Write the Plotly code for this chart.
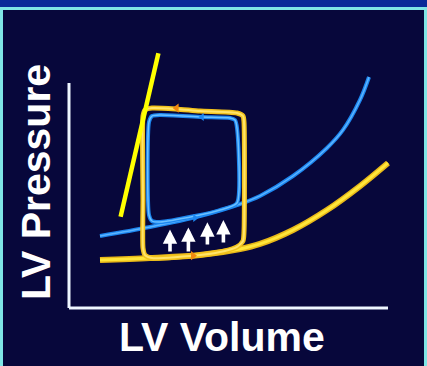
import plotly.graph_objects as go

# ---- data (LV volume, LV pressure) ----
edpvr_vol = [15.5, 40.5, 65.5, 85.5, 95.5, 112, 129, 145.5, 159.5]
edpvr_pres = [32, 33.3, 35.3, 39.3, 42.7, 52, 65.3, 81.3, 96.7]

shift_vol = [15.5, 40.5, 65.5, 85.5, 95.5, 112, 129, 137, 145.5, 150]
shift_pres = [48, 54, 61.3, 69.3, 74.7, 88, 106.7, 118.7, 138.7, 154]

espvr_vol = [25.8, 44.7]
espvr_pres = [60.9, 169.8]

loop1_vol = [87.5, 87, 84, 65.5, 53.5, 41.5, 38, 37, 37, 37, 38, 41.5, 65.5, 78, 84, 87, 87.5, 87.5]
loop1_pres = [124, 128, 130, 131.3, 132.7, 133.3, 132, 128, 72, 40, 35.3, 33.3, 35.3, 38, 40.7, 44.7, 50.7, 124]

loop2_vol = [84, 83, 80.5, 66.5, 45.5, 41.5, 40, 40, 41.5, 45.5, 63, 75.5, 84, 84]
loop2_pres = [120, 125.3, 126.7, 127.3, 128.7, 128, 124, 62, 58, 57.3, 61.3, 65.3, 70, 120]

dir1_vol = [53.8, 62]
dir1_pres = [133.3, 34.9]
dir1_sym = ["triangle-left", "triangle-right"]
dir2_vol = [66.5, 63]
dir2_pres = [127.3, 60]
dir2_sym = ["triangle-left", "triangle-right"]

arrow_vol = [50.5, 59.7, 69.2, 77.2]
arrow_base = [36.7, 36.7, 41.3, 42.7]
arrow_tip = [52.4, 53.7, 57.1, 58.6]

x_label = "LV Volume"
y_label = "LV Pressure"

NAVY = "#07073b"
CYAN = "#7fe6e6"
STRIP = "#0a2a98"
BLUE = "#1c86f0"

fig = go.Figure()

# EDPVR (yellow curve)
fig.add_trace(go.Scatter(x=edpvr_vol, y=edpvr_pres, mode="lines",
                         line=dict(color="#e8b818", width=6, shape="spline", smoothing=1)))
fig.add_trace(go.Scatter(x=edpvr_vol, y=edpvr_pres, mode="lines",
                         line=dict(color="#ffe63a", width=3, shape="spline", smoothing=1)))
# shifted curve (blue)
fig.add_trace(go.Scatter(x=shift_vol, y=shift_pres, mode="lines",
                         line=dict(color=BLUE, width=4, shape="spline", smoothing=1)))
fig.add_trace(go.Scatter(x=shift_vol, y=shift_pres, mode="lines",
                         line=dict(color="#5cb4ff", width=1.5, shape="spline", smoothing=1)))
# yellow loop
fig.add_trace(go.Scatter(x=loop1_vol, y=loop1_pres, mode="lines",
                         line=dict(color="#f2c21c", width=5, shape="spline", smoothing=0.6)))
fig.add_trace(go.Scatter(x=loop1_vol, y=loop1_pres, mode="lines",
                         line=dict(color="#ffe46a", width=2, shape="spline", smoothing=0.6)))
fig.add_trace(go.Scatter(x=dir1_vol, y=dir1_pres, mode="markers",
                         marker=dict(symbol=dir1_sym, size=8, color="#f08a10")))
# blue loop
fig.add_trace(go.Scatter(x=loop2_vol, y=loop2_pres, mode="lines",
                         line=dict(color=BLUE, width=4, shape="spline", smoothing=0.6)))
fig.add_trace(go.Scatter(x=loop2_vol, y=loop2_pres, mode="lines",
                         line=dict(color="#6cc0ff", width=1.5, shape="spline", smoothing=0.6)))
fig.add_trace(go.Scatter(x=dir2_vol, y=dir2_pres, mode="markers",
                         marker=dict(symbol=dir2_sym, size=7, color=BLUE)))
# ESPVR straight line
fig.add_trace(go.Scatter(x=espvr_vol, y=espvr_pres, mode="lines",
                         line=dict(color="#ffff00", width=4.5)))

annotations = []
for v, b, t in zip(arrow_vol, arrow_base, arrow_tip):
    annotations.append(dict(x=v, y=t, ax=v, ay=b, xref="x", yref="y", axref="x", ayref="y",
                            text="", showarrow=True, arrowhead=2, arrowsize=0.8,
                            arrowwidth=3.6, arrowcolor="white", standoff=0, startstandoff=0))

annotations.append(dict(text=x_label, x=221.7 / 427, y=1 - 336.7 / 366, xref="paper", yref="paper",
                        showarrow=False, xanchor="center", yanchor="middle",
                        font=dict(family="Liberation Sans, Arial, sans-serif", size=41, color="white",
                                  weight="bold")))
annotations.append(dict(text=y_label, x=36.7 / 427, y=1 - 182.4 / 366, xref="paper", yref="paper",
                        showarrow=False, xanchor="center", yanchor="middle", textangle=-90,
                        font=dict(family="Liberation Sans, Arial, sans-serif", size=41, color="white",
                                  weight="bold")))

shapes = [
    dict(type="rect", xref="paper", yref="paper", x0=0, x1=1, y0=1 - 7 / 366, y1=1,
         fillcolor=STRIP, line=dict(width=0), layer="below"),
    dict(type="rect", xref="paper", yref="paper", x0=3 / 427, x1=424 / 427, y0=0, y1=1 - 10 / 366,
         fillcolor=NAVY, line=dict(width=0), layer="below"),
    dict(type="line", xref="x", yref="y", x0=0, y0=0, x1=0, y1=150,
         line=dict(color="#eef6ff", width=3), layer="below"),
    dict(type="line", xref="x", yref="y", x0=0, y0=0, x1=159.5, y1=0,
         line=dict(color="#eef6ff", width=3), layer="below"),
]

fig.update_layout(
    width=427, height=366,
    margin=dict(l=0, r=0, t=0, b=0),
    paper_bgcolor=CYAN, plot_bgcolor="rgba(0,0,0,0)",
    showlegend=False,
    xaxis=dict(range=[-34.5, 179], visible=False, fixedrange=True),
    yaxis=dict(range=[-38.67, 205.33], visible=False, fixedrange=True),
    shapes=shapes, annotations=annotations,
)

fig.write_html("out.html", config={"displayModeBar": False},
               post_script="document.body.style.margin='0px';document.body.style.padding='0px';"
                           "document.body.style.overflow='hidden';")
